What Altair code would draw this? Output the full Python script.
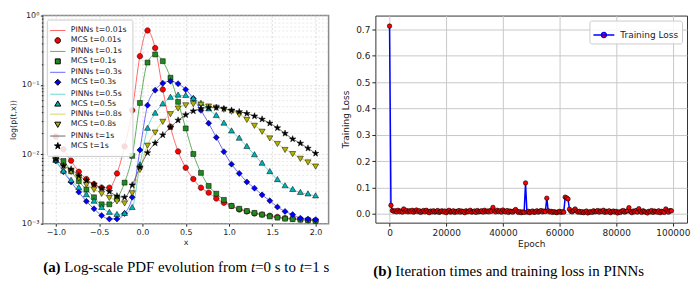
import altair as alt
import pandas as pd

# ---------------- data: panel (a) ----------------
x_grid = [-1.0, -0.912, -0.824, -0.735, -0.647, -0.559, -0.471, -0.382, -0.294, -0.206,
          -0.118, -0.029, 0.059, 0.147, 0.235, 0.324, 0.412, 0.5, 0.588, 0.676,
          0.765, 0.853, 0.941, 1.029, 1.118, 1.206, 1.294, 1.382, 1.471, 1.559,
          1.647, 1.735, 1.824, 1.912, 2.0]

p_t001 = [0.018, 0.0118, 0.0081, 0.0056, 0.0044, 0.0037, 0.0033, 0.0033, 0.0053, 0.013,
          0.043, 0.26, 0.61, 0.34, 0.086, 0.025, 0.011, 0.0064, 0.0044, 0.0033,
          0.0028, 0.0023, 0.002, 0.0018, 0.0016, 0.0015, 0.0014, 0.00135, 0.0013, 0.00125,
          0.0012, 0.00118, 0.00115, 0.00112, 0.0011]
p_t01 = [0.0088, 0.008, 0.0057, 0.0041, 0.0031, 0.0024, 0.0019, 0.0019, 0.0023, 0.0039,
         0.0095, 0.055, 0.21, 0.275, 0.22, 0.127, 0.057, 0.0236, 0.0101, 0.0054,
         0.0035, 0.0027, 0.0022, 0.0018, 0.00164, 0.00152, 0.00143, 0.00135, 0.00127, 0.00122,
         0.00118, 0.00116, 0.00114, 0.00112, 0.0011]
p_t03 = [0.008, 0.0056, 0.004, 0.00285, 0.0021, 0.00164, 0.00131, 0.00117, 0.00117, 0.0014,
         0.0024, 0.0115, 0.051, 0.084, 0.106, 0.113, 0.104, 0.086, 0.0635, 0.043,
         0.028, 0.0175, 0.0109, 0.0072, 0.0053, 0.004, 0.00325, 0.0026, 0.00214, 0.00174,
         0.0015, 0.00135, 0.0012, 0.00117, 0.00114]
p_t05 = [0.0081, 0.0057, 0.0042, 0.0033, 0.0026, 0.0021, 0.0017, 0.00145, 0.00135, 0.0014,
         0.0017, 0.007, 0.0236, 0.039, 0.053, 0.066, 0.071, 0.070, 0.0635, 0.054,
         0.045, 0.036, 0.028, 0.0216, 0.017, 0.0129, 0.0098, 0.0074, 0.0056, 0.0043,
         0.0035, 0.0031, 0.0028, 0.00267, 0.0025]
p_t08 = [0.0085, 0.0068, 0.0057, 0.0046, 0.0037, 0.00315, 0.00275, 0.0024, 0.00214, 0.002,
         0.0028, 0.0061, 0.0136, 0.021, 0.030, 0.0387, 0.0467, 0.052, 0.054, 0.053,
         0.050, 0.048, 0.045, 0.042, 0.038, 0.032, 0.0263, 0.0216, 0.0173, 0.0144,
         0.0118, 0.0103, 0.0088, 0.0078, 0.0068]
p_t1 = [0.0085, 0.0068, 0.0061, 0.0049, 0.0042, 0.0037, 0.00325, 0.0029, 0.0025, 0.0024,
        0.0036, 0.0065, 0.0105, 0.0145, 0.019, 0.0245, 0.031, 0.037, 0.042, 0.0455,
        0.047, 0.047, 0.0455, 0.043, 0.041, 0.0387, 0.0355, 0.032, 0.028, 0.024,
        0.020, 0.0166, 0.0144, 0.0122, 0.0103]

time_labels = ["0.01s", "0.1s", "0.3s", "0.5s", "0.8s", "1s"]
line_colors = ["#ff6a6a", "#5fae5f", "#6a6aff", "#6ad6d6", "#d6d66a", "#6a6a6a"]
marker_colors = ["#ff0000", "#1f8a1f", "#0000ff", "#00b3b3", "#b3b300", "#000000"]
# marker outlines (drawn at one common symbol size, shrunk inside the unit box)
marker_shapes = [
    "M-0.5,0A0.5,0.5,0,1,0,0.5,0A0.5,0.5,0,1,0,-0.5,0Z",
    "M-0.45,-0.45H0.45V0.45H-0.45Z",
    "M0,-0.55L0.55,0L0,0.55L-0.55,0Z",
    "M0,-0.6L0.55,0.35L-0.55,0.35Z",
    "M0,0.6L0.55,-0.35L-0.55,-0.35Z",
    "M0,-0.62L0.139,-0.192L0.59,-0.192L0.225,0.073L0.365,0.5L0,0.237L-0.365,0.5"
    "L-0.225,0.073L-0.59,-0.192L-0.139,-0.192Z",
]
line_symbol = "M-1.4,0H1.4"
SYM_SIZE = 121

# ---------------- data: panel (b) ----------------
loss_step = 500
loss_values = [
    0.713, 0.032, 0.012, 0.009, 0.011, 0.007, 0.013, 0.008, 0.010, 0.006,
    0.018, 0.009, 0.012, 0.007, 0.011, 0.008, 0.013, 0.006, 0.010, 0.014,
    0.008, 0.011, 0.005, 0.009, 0.012, 0.007, 0.013, 0.008, 0.004, 0.010,
    0.007, 0.011, 0.006, 0.009, 0.012, 0.005, 0.008, 0.011, 0.007, 0.010,
    0.004, 0.009, 0.013, 0.006, 0.008, 0.011, 0.005, 0.009, 0.007, 0.012,
    0.006, 0.010, 0.008, 0.004, 0.011, 0.007, 0.009, 0.013, 0.006, 0.008,
    0.010, 0.005, 0.012, 0.007, 0.009, 0.011, 0.006, 0.013, 0.008, 0.010,
    0.007, 0.012, 0.009, 0.024, 0.010, 0.007, 0.013, 0.008, 0.011, 0.006,
    0.014, 0.009, 0.007, 0.012, 0.005, 0.010, 0.008, 0.006, 0.011, 0.016,
    0.009, 0.005, 0.008, 0.004, 0.007, 0.005, 0.117, 0.006, 0.009, 0.004,
    0.008, 0.010, 0.005, 0.007, 0.011, 0.006, 0.009, 0.012, 0.007, 0.010,
    0.008, 0.059, 0.011, 0.007, 0.009, 0.005, 0.008, 0.006, 0.004, 0.007,
    0.009, 0.005, 0.008, 0.006, 0.063, 0.060, 0.056, 0.017, 0.009, 0.007,
    0.012, 0.018, 0.010, 0.006, 0.009, 0.005, 0.008, 0.004, 0.007, 0.010,
    0.003, 0.006, 0.008, 0.005, 0.011, 0.007, 0.009, 0.012, 0.006, 0.010,
    0.008, 0.013, 0.005, 0.009, 0.007, 0.011, 0.004, 0.008, 0.010, 0.006,
    0.009, 0.003, 0.007, 0.005, 0.010, 0.012, 0.006, 0.009, 0.011, 0.023,
    0.008, 0.004, 0.010, 0.007, 0.012, 0.006, 0.019, 0.009, 0.005, 0.011,
    0.008, 0.006, 0.003, 0.009, 0.007, 0.012, 0.005, 0.010, 0.008, 0.006,
    0.011, 0.004, 0.009, 0.007, 0.005, 0.018, 0.010, 0.006, 0.012, 0.011,
]
loss_epochs = [i * loss_step for i in range(len(loss_values))]

y_all = [0.001, 0.002, 0.003, 0.004, 0.005, 0.006, 0.007, 0.008, 0.009,
         0.01, 0.02, 0.03, 0.04, 0.05, 0.06, 0.07, 0.08, 0.09,
         0.1, 0.2, 0.3, 0.4, 0.5, 0.6, 0.7, 0.8, 0.9, 1.0]
x_ticks_a = [-1.0, -0.5, 0.0, 0.5, 1.0, 1.5, 2.0]
x_ticks_b = [0, 20000, 40000, 60000, 80000, 100000]
y_ticks_b = [0.0, 0.1, 0.2, 0.3, 0.4, 0.5, 0.6, 0.7]

caption_a = [("(a)", "bold", "normal"), (" Log-scale PDF evolution from ", "normal", "normal"),
             ("t", "normal", "italic"), ("=0 s to ", "normal", "normal"),
             ("t", "normal", "italic"), ("=1 s", "normal", "normal")]
caption_b = [("(b)", "bold", "normal"), (" Iteration times and training loss in PINNs", "normal", "normal")]

# ---------------- build tables ----------------
domain, stroke_rng, fill_rng, shape_rng = [], [], [], []
line_rows, pt_rows = [], []
series_vals = [p_t001, p_t01, p_t03, p_t05, p_t08, p_t1]
for k, (t, vals) in enumerate(zip(time_labels, series_vals)):
    pn, mn = f"PINNs t={t}", f"MCS t={t}"
    domain += [pn, mn]
    stroke_rng += [line_colors[k], "#000000"]
    fill_rng += [line_colors[k], marker_colors[k]]
    shape_rng += [line_symbol, marker_shapes[k]]
    for xv, pv in zip(x_grid, vals):
        line_rows.append({"x": xv, "p": pv, "series": pn})
        pt_rows.append({"x": xv, "p": pv, "series": mn})
df_line = pd.DataFrame(line_rows)
df_pt = pd.DataFrame(pt_rows)
df_loss = pd.DataFrame({"epoch": loss_epochs, "loss": loss_values, "lbl": "Training Loss"})

# Times metrics for caption layout
TW = {' ': 250, '(': 333, ')': 333, '=': 564, '-': 333, 'a': 444, 'b': 500, 'c': 444, 'd': 500,
      'e': 444, 'f': 333, 'g': 500, 'i': 278, 'l': 278, 'm': 778, 'n': 500, 'o': 500, 'r': 333,
      's': 389, 't': 278, 'u': 500, 'v': 500, 'L': 611, 'P': 556, 'D': 722, 'F': 556, 'I': 333,
      'N': 722}
TWB = {'(': 333, ')': 333, 'a': 500, 'b': 556}
CAP_FS = 15


def text_w(s, weight):
    tot = 0
    for ch in s:
        if ch.isdigit():
            tot += 500
        elif weight == "bold" and ch in TWB:
            tot += TWB[ch]
        else:
            tot += TW.get(ch, 500)
    return tot * CAP_FS / 1000.0


def caption_layers(pieces, center, ybase):
    total = sum(text_w(s, w) for s, w, _ in pieces)
    x0 = center - total / 2
    layers = []
    for s, w, st in pieces:
        lead = len(s) - len(s.lstrip(" "))
        core = s.strip(" ")
        layers.append(
            alt.Chart(pd.DataFrame({"c": [core]})).mark_text(
                align="left", baseline="alphabetic", font="Liberation Serif",
                fontSize=CAP_FS, fontWeight=w, fontStyle=st, color="#000000"
            ).encode(text="c:N", x=alt.value(x0 + text_w(" " * lead, "normal")), y=alt.value(ybase))
        )
        x0 += text_w(s, w)
    return layers


# ---------------- panel (a) ----------------
W_A, H_A = 287, 209
xs_a = alt.Scale(domain=[-1.15, 2.15], nice=False, zero=False)
ys_a = alt.Scale(type="log", domain=[0.001, 1.0], nice=False)
major_test = "abs(log(datum.value)/LN10 - round(log(datum.value)/LN10)) < 0.000001"
x_axis_a = alt.Axis(values=x_ticks_a, format=".1f", title="x", labelFontSize=8, titleFontSize=8,
                    tickSize=2.5, labelPadding=2, titlePadding=2, grid=True, gridDash=[2, 2],
                    gridColor="#cfcfcf", gridWidth=0.7)
y_axis_a = alt.Axis(values=y_all, title="log(p(t,x))", labelFontSize=8, titleFontSize=8,
                    labelOverlap=False, labelPadding=1.5, titlePadding=4,
                    labelExpr="datum.value == 1 ? '10⁰' : datum.value == 0.1 ? '10⁻¹' : "
                              "datum.value == 0.01 ? '10⁻²' : datum.value == 0.001 ? '10⁻³' : ''",
                    tickSize={"condition": {"test": major_test, "value": 2.5}, "value": 1.5},
                    grid=True, gridDash=[2, 2], gridWidth=0.7,
                    gridColor={"condition": {"test": major_test, "value": "#cfcfcf"}, "value": "#dedede"})

leg_a = alt.Legend(title=None, orient="top-left", offset=4, padding=5,
                   fillColor="rgba(255,255,255,0.85)", strokeColor="#cccccc", cornerRadius=2,
                   labelFont="DejaVu Sans", labelFontSize=7.8, labelColor="#222222",
                   labelAlign="left", rowPadding=0, symbolStrokeWidth=1, labelOffset=7,
                   symbolSize=SYM_SIZE)
stroke_sc = alt.Scale(domain=domain, range=stroke_rng)
fill_sc = alt.Scale(domain=domain, range=fill_rng)
shape_sc = alt.Scale(domain=domain, range=shape_rng)

lines_a = alt.Chart(df_line).mark_line(strokeWidth=1, interpolate="monotone").encode(
    x=alt.X("x:Q", scale=xs_a, axis=x_axis_a),
    y=alt.Y("p:Q", scale=ys_a, axis=y_axis_a),
    stroke=alt.Stroke("series:N", scale=stroke_sc, legend=leg_a),
)
pts_a = alt.Chart(df_pt).mark_point(filled=True, opacity=1, strokeWidth=0.5, size=SYM_SIZE).encode(
    x=alt.X("x:Q", scale=xs_a, axis=x_axis_a),
    y=alt.Y("p:Q", scale=ys_a, axis=y_axis_a),
    fill=alt.Fill("series:N", scale=fill_sc, legend=leg_a),
    stroke=alt.Stroke("series:N", scale=stroke_sc, legend=leg_a),
    shape=alt.Shape("series:N", scale=shape_sc, legend=leg_a),
)
panel_a = alt.layer(lines_a, pts_a, *caption_layers(caption_a, 144, 258)).properties(
    width=W_A, height=H_A, view=alt.ViewBackground(stroke="#8a8a8a", strokeWidth=1.5)
)

# ---------------- panel (b) ----------------
W_B, H_B = 313, 208
xs_b = alt.Scale(domain=[-5000, 105000], nice=False, zero=False)
ys_b = alt.Scale(domain=[-0.034, 0.753], nice=False, zero=False)
x_axis_b = alt.Axis(values=x_ticks_b, format="d", title="Epoch", labelFontSize=9, titleFontSize=9,
                    tickSize=3.5, labelPadding=2, titlePadding=2, grid=True, gridColor="#c8c8c8",
                    gridWidth=1)
y_axis_b = alt.Axis(values=y_ticks_b, format=".1f", title="Training Loss", labelFontSize=9,
                    titleFontSize=9, tickSize=3.5, labelPadding=2, titlePadding=5, grid=True,
                    gridColor="#c8c8c8", gridWidth=1)
leg_b = alt.Legend(title=None, orient="top-right", offset=5, padding=3,
                   fillColor="rgba(255,255,255,0.85)", strokeColor="#cccccc", cornerRadius=2,
                   labelFont="DejaVu Sans", labelFontSize=9, labelColor="#222222",
                   symbolType="M-1,0H1M-0.25,0A0.25,0.25,0,1,0,0.25,0A0.25,0.25,0,1,0,-0.25,0Z",
                   symbolSize=441, symbolStrokeColor="#0000ff", symbolFillColor="#ff0000",
                   symbolStrokeWidth=1.3, labelOffset=5)
line_b = alt.Chart(df_loss).mark_line(color="#0000ff", strokeWidth=1.5).encode(
    x=alt.X("epoch:Q", scale=xs_b, axis=x_axis_b),
    y=alt.Y("loss:Q", scale=ys_b, axis=y_axis_b),
)
pts_b = alt.Chart(df_loss).mark_point(filled=True, opacity=1, size=20, strokeWidth=0.6,
                                      stroke="#000000").encode(
    x=alt.X("epoch:Q", scale=xs_b, axis=x_axis_b),
    y=alt.Y("loss:Q", scale=ys_b, axis=y_axis_b),
    fill=alt.Fill("lbl:N", scale=alt.Scale(domain=["Training Loss"], range=["#ff0000"]), legend=leg_b),
)
panel_b = alt.layer(line_b, pts_b, *caption_layers(caption_b, 134, 262)).properties(
    width=W_B, height=H_B, view=alt.ViewBackground(stroke="#333333", strokeWidth=1)
)

chart = alt.hconcat(panel_a, panel_b, spacing=10).resolve_scale(
    fill="independent", stroke="independent", shape="independent"
).resolve_legend(
    fill="independent", stroke="independent", shape="independent"
).properties(
    padding={"left": 0, "top": 2, "right": 0, "bottom": 0}
).configure_axis(
    labelFont="DejaVu Sans", titleFont="DejaVu Sans", titleFontWeight="normal",
    labelColor="#222222", titleColor="#222222", tickColor="#222222", domain=False
).configure_view(stroke="#333333")

chart.save("out.html", embed_options={"renderer": "svg", "actions": False})
